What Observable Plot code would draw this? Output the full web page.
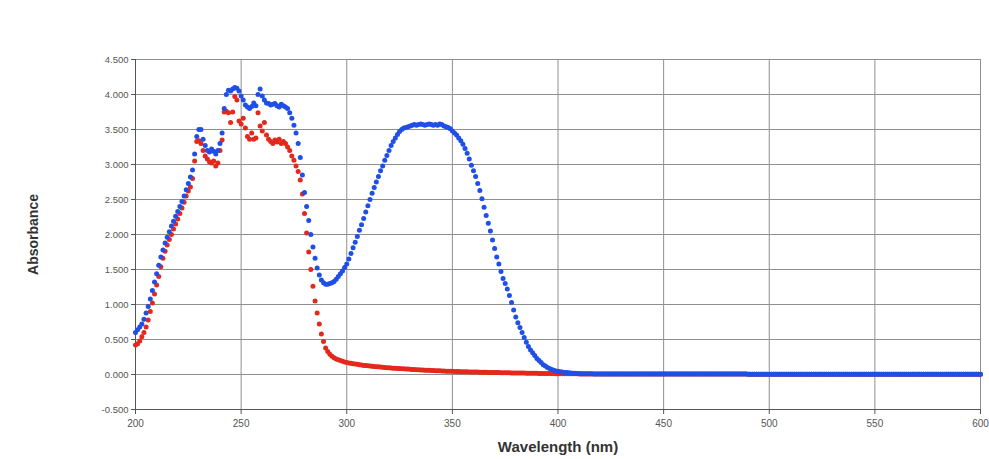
<!DOCTYPE html>
<html><head><meta charset="utf-8">
<script src="https://cdn.jsdelivr.net/npm/d3@7"></script>
<script src="https://cdn.jsdelivr.net/npm/@observablehq/plot@0.6"></script>
<style>body{margin:0;background:#fff;}</style>
</head><body><div id="chart"></div>
<script>
// Wavelengths 200..600 nm, 1 nm step
const wavelengths = d3.range(200, 601);

// Blue series (absorbance), 200..600 nm
const blueAbs = [
0.60,0.64,0.68,0.72,0.79,0.88,0.97,1.08,1.20,1.32,
1.44,1.56,1.68,1.78,1.88,1.96,2.04,2.12,2.19,2.26,
2.33,2.40,2.47,2.55,2.64,2.73,2.82,2.92,3.15,3.40,
3.50,3.50,3.36,3.27,3.20,3.18,3.22,3.19,3.15,3.20,
3.30,3.45,3.80,4.00,4.06,4.05,4.08,4.10,4.09,4.05,
3.98,3.92,3.85,3.82,3.80,3.83,3.88,3.84,4.00,4.08,
3.98,3.92,3.88,3.87,3.85,3.86,3.87,3.84,3.82,3.86,
3.84,3.82,3.80,3.74,3.66,3.56,3.45,3.30,3.10,2.85,
2.60,2.40,2.20,2.00,1.82,1.66,1.52,1.42,1.35,1.31,
1.29,1.29,1.30,1.31,1.33,1.36,1.40,1.44,1.48,1.53,
1.58,1.65,1.73,1.81,1.89,1.97,2.06,2.14,2.23,2.32,
2.41,2.50,2.59,2.67,2.75,2.83,2.91,2.98,3.06,3.13,
3.20,3.27,3.33,3.38,3.43,3.47,3.50,3.52,3.53,3.54,
3.55,3.56,3.57,3.56,3.57,3.58,3.57,3.56,3.57,3.58,
3.57,3.56,3.57,3.56,3.58,3.57,3.55,3.54,3.53,3.51,
3.48,3.45,3.42,3.38,3.34,3.29,3.23,3.16,3.08,2.99,
2.91,2.83,2.73,2.63,2.51,2.39,2.27,2.16,2.05,1.92,
1.80,1.68,1.58,1.47,1.37,1.30,1.22,1.13,1.03,0.92,
0.82,0.74,0.67,0.60,0.53,0.46,0.40,0.35,0.31,0.27,
0.23,0.20,0.17,0.14,0.12,0.10,0.085,0.07,0.06,0.05,
0.045,0.04,0.035,0.03,0.027,0.024,0.021,0.019,0.017,0.015,
0.013,0.012,0.011,0.010,0.010,0.009,0.009,0.008,0.008,0.008,
0.007,0.007,0.007,0.007,0.007,0.007,0.007,0.007,0.007,0.007,
0.006,0.006,0.006,0.006,0.006,0.006,0.006,0.006,0.006,0.006,
0.006,0.006,0.006,0.006,0.006,0.006,0.006,0.006,0.006,0.006,
0.006,0.006,0.006,0.006,0.006,0.006,0.006,0.006,0.006,0.006,
0.006,0.006,0.006,0.006,0.006,0.006,0.006,0.006,0.006,0.006,
0.006,0.006,0.006,0.006,0.006,0.006,0.006,0.006,0.006,0.006,
0.006,0.006,0.006,0.006,0.006,0.006,0.006,0.006,0.006,0.006,
0.005,0.005,0.005,0.005,0.005,0.005,0.005,0.005,0.005,0.005,
0.005,0.005,0.005,0.005,0.005,0.005,0.005,0.005,0.005,0.005,
0.005,0.005,0.005,0.005,0.005,0.005,0.005,0.005,0.005,0.005,
0.005,0.005,0.005,0.005,0.005,0.005,0.005,0.005,0.005,0.005,
0.005,0.005,0.005,0.005,0.005,0.005,0.005,0.005,0.005,0.005,
0.005,0.005,0.005,0.005,0.005,0.005,0.005,0.005,0.005,0.005,
0.005,0.005,0.005,0.005,0.005,0.005,0.005,0.005,0.005,0.005,
0.005,0.005,0.005,0.005,0.005,0.005,0.005,0.005,0.005,0.005,
0.005,0.005,0.005,0.005,0.005,0.005,0.005,0.005,0.005,0.005,
0.005,0.005,0.005,0.005,0.005,0.005,0.005,0.005,0.005,0.005,
0.005,0.005,0.005,0.005,0.005,0.005,0.005,0.005,0.005,0.005,
0.005
];

// Red series (absorbance), 200..600 nm
const redAbs = [
0.42,0.44,0.48,0.54,0.60,0.68,0.78,0.90,1.02,1.15,
1.28,1.40,1.54,1.66,1.76,1.85,1.93,2.00,2.08,2.15,
2.22,2.30,2.38,2.46,2.55,2.62,2.68,2.80,3.05,3.33,
3.34,3.30,3.20,3.12,3.08,3.04,3.02,3.05,2.98,3.02,
3.20,3.35,3.75,3.76,3.74,3.60,3.75,3.97,3.92,3.62,
3.58,3.66,3.52,3.40,3.36,3.45,3.36,3.38,3.74,3.55,
3.48,3.60,3.42,3.36,3.33,3.30,3.35,3.32,3.36,3.30,
3.33,3.30,3.25,3.20,3.12,3.06,2.98,2.90,2.78,2.58,
2.30,2.02,1.75,1.50,1.26,1.05,0.88,0.72,0.58,0.47,
0.38,0.33,0.29,0.26,0.24,0.22,0.21,0.20,0.19,0.18,
0.17,0.165,0.16,0.155,0.15,0.145,0.14,0.135,0.13,0.128,
0.125,0.122,0.118,0.115,0.112,0.11,0.107,0.104,0.10,0.098,
0.095,0.093,0.091,0.089,0.087,0.085,0.083,0.081,0.079,0.077,
0.075,0.073,0.071,0.069,0.067,0.065,0.064,0.062,0.061,0.059,
0.058,0.056,0.055,0.054,0.052,0.050,0.049,0.048,0.047,0.046,
0.045,0.044,0.043,0.042,0.041,0.040,0.039,0.038,0.037,0.036,
0.035,0.034,0.034,0.033,0.032,0.031,0.031,0.030,0.029,0.028,
0.028,0.027,0.027,0.026,0.025,0.025,0.024,0.024,0.023,0.022,
0.022,0.021,0.021,0.020,0.020,0.019,0.019,0.018,0.018,0.017,
0.017,0.016,0.016,0.015,0.015,0.014,0.014,0.013,0.013,0.012,
0.012,0.011,0.011,0.011,0.010,0.010,0.010,0.009,0.009,0.009,
0.008,0.008,0.008,0.008,0.008,0.008,0.008,0.008,0.008,0.008,
0.007,0.007,0.007,0.007,0.007,0.007,0.007,0.007,0.007,0.007,
0.006,0.006,0.006,0.006,0.006,0.006,0.006,0.006,0.006,0.006,
0.006,0.006,0.006,0.006,0.006,0.006,0.006,0.006,0.006,0.006,
0.006,0.006,0.006,0.006,0.006,0.006,0.006,0.006,0.006,0.006,
0.006,0.006,0.006,0.006,0.006,0.006,0.006,0.006,0.006,0.006,
0.006,0.006,0.006,0.006,0.006,0.006,0.006,0.006,0.006,0.006,
0.006,0.006,0.006,0.006,0.006,0.006,0.006,0.006,0.006,0.006,
0.005,0.005,0.005,0.005,0.005,0.005,0.005,0.005,0.005,0.005,
0.005,0.005,0.005,0.005,0.005,0.005,0.005,0.005,0.005,0.005,
0.005,0.005,0.005,0.005,0.005,0.005,0.005,0.005,0.005,0.005,
0.005,0.005,0.005,0.005,0.005,0.005,0.005,0.005,0.005,0.005,
0.005,0.005,0.005,0.005,0.005,0.005,0.005,0.005,0.005,0.005,
0.005,0.005,0.005,0.005,0.005,0.005,0.005,0.005,0.005,0.005,
0.005,0.005,0.005,0.005,0.005,0.005,0.005,0.005,0.005,0.005,
0.005,0.005,0.005,0.005,0.005,0.005,0.005,0.005,0.005,0.005,
0.005,0.005,0.005,0.005,0.005,0.005,0.005,0.005,0.005,0.005,
0.005,0.005,0.005,0.005,0.005,0.005,0.005,0.005,0.005,0.005,
0.005,0.005,0.005,0.005,0.005,0.005,0.005,0.005,0.005,0.005,
0.005
];

const xTicks = [200, 250, 300, 350, 400, 450, 500, 550, 600];
const yTicks = [-0.5, 0, 0.5, 1, 1.5, 2, 2.5, 3, 3.5, 4, 4.5];
const xTitle = "Wavelength (nm)";
const yTitle = "Absorbance";

const redData = wavelengths.map((w, i) => ({w, a: redAbs[i]})).filter(d => d.a != null);
const blueData = wavelengths.map((w, i) => ({w, a: blueAbs[i]})).filter(d => d.a != null);

const chart = Plot.plot({
  width: 989,
  height: 459,
  marginLeft: 135,
  marginRight: 9,
  marginTop: 59,
  marginBottom: 50,
  style: {fontFamily: "'Liberation Sans', Arial, sans-serif", background: "#ffffff"},
  x: {domain: [200, 600]},
  y: {domain: [-0.5, 4.5]},
  marks: [
    Plot.gridX(xTicks, {stroke: "#8f8f8f", strokeOpacity: 1}),
    Plot.gridY(yTicks, {stroke: "#8f8f8f", strokeOpacity: 1}),
    Plot.axisX(xTicks, {tickSize: 5, tickPadding: 5, tickFormat: d => String(d), fontSize: 10, fill: "#555", stroke: "#555", label: null}),
    Plot.axisY(yTicks, {tickSize: 4, tickPadding: 3, tickFormat: d => d.toFixed(3), fontSize: 9.5, fill: "#555", stroke: "#555", label: null}),
    Plot.ruleX([200], {stroke: "#555"}),
    Plot.ruleY([-0.5], {stroke: "#555"}),
    Plot.dot(redData, {x: "w", y: "a", r: 2.5, fill: "#e5281c", stroke: null}),
    Plot.dot(blueData, {x: "w", y: "a", r: 2.5, fill: "#1f4fe6", stroke: null}),
    Plot.text([yTitle], {frameAnchor: "left", textAnchor: "middle", dx: -102, rotate: -90, fontWeight: "bold", fontSize: 14, fill: "#333"}),
    Plot.text([xTitle], {frameAnchor: "bottom", dy: 42, fontWeight: "bold", fontSize: 15, fill: "#333"})
  ]
});
document.getElementById("chart").appendChild(chart);
</script>
</body></html>
